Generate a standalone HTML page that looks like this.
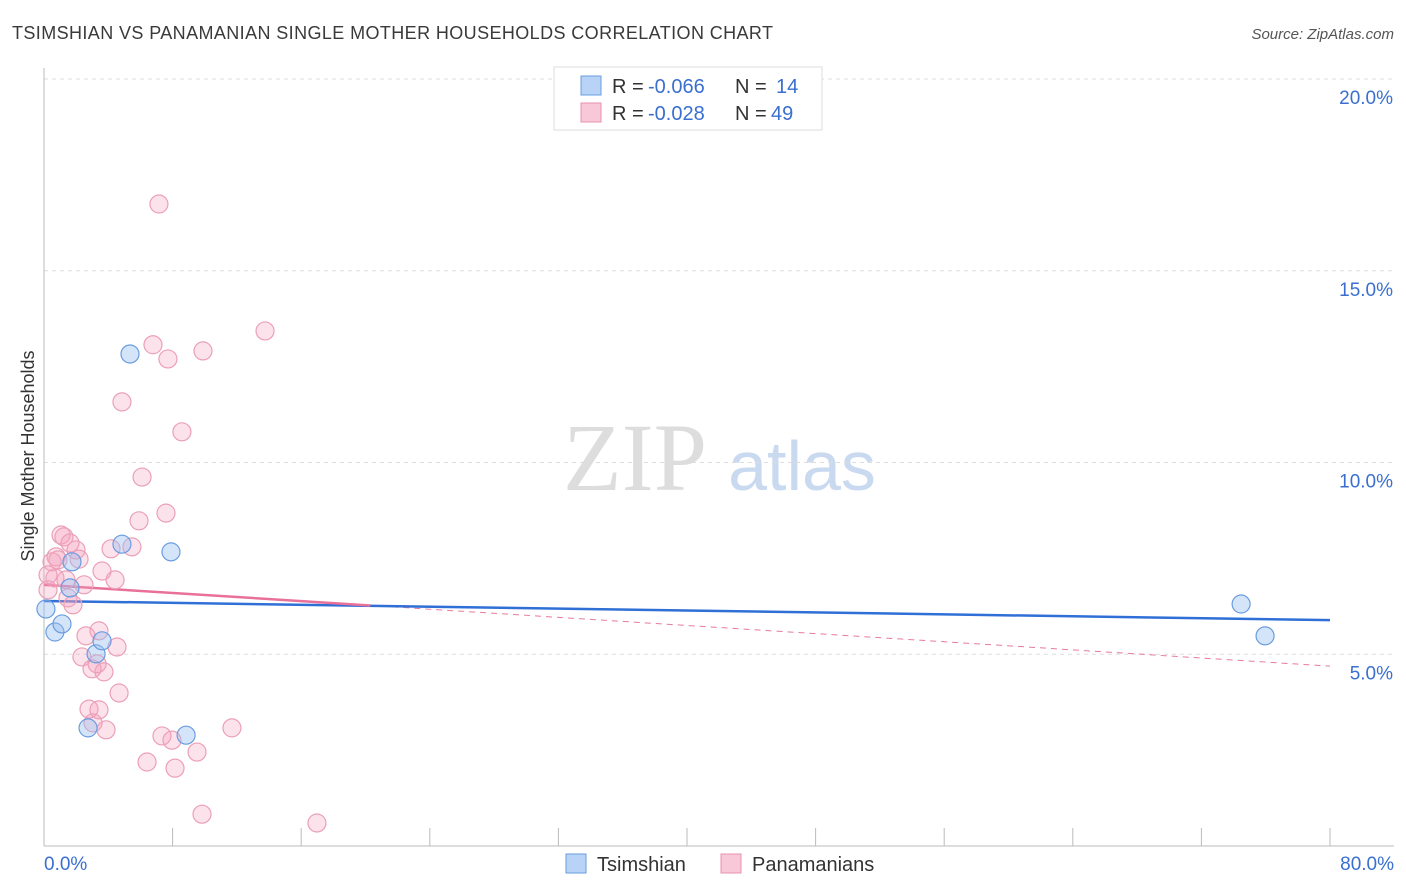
<!DOCTYPE html>
<html><head><meta charset="utf-8"><style>
body{margin:0;background:#fff;font-family:"Liberation Sans",sans-serif}
</style></head><body>
<svg id="c" width="1406" height="892" xmlns="http://www.w3.org/2000/svg" style="display:block">
<text x="12" y="39" font-size="18" fill="#3a3a3a" textLength="761" lengthAdjust="spacing">TSIMSHIAN VS PANAMANIAN SINGLE MOTHER HOUSEHOLDS CORRELATION CHART</text>
<text x="1394" y="39" font-size="15" fill="#555" font-style="italic" text-anchor="end">Source: ZipAtlas.com</text>
<text transform="translate(34,456) rotate(-90)" font-size="18" fill="#333" text-anchor="middle">Single Mother Households</text>
<g>
<text x="635" y="490" font-size="96" fill="#ddd" font-family="Liberation Serif,serif" text-anchor="middle">ZIP</text>
<text x="802" y="490" font-size="70" fill="#c9daf0" text-anchor="middle">atlas</text>
</g>
<g id="grid"></g><g id="axes"></g><g id="lines"></g><g id="pts"></g>
<g>
<rect x="554" y="67" width="268" height="63" fill="#fff" stroke="#ddd"/>
<rect x="581" y="76" width="20" height="19" fill="#b8d3f5" stroke="#6a9de0"/>
<rect x="581" y="103" width="20" height="19" fill="#f9c8d8" stroke="#e890ad"/>
<text x="612" y="93" font-size="20" fill="#333">R =</text>
<text x="648" y="93" font-size="20" fill="#3a6fd0">-0.066</text>
<text x="735" y="93" font-size="20" fill="#333">N =</text>
<text x="776" y="93" font-size="20" fill="#3a6fd0">14</text>
<text x="612" y="120" font-size="20" fill="#333">R =</text>
<text x="648" y="120" font-size="20" fill="#3a6fd0">-0.028</text>
<text x="735" y="120" font-size="20" fill="#333">N =</text>
<text x="771" y="120" font-size="20" fill="#3a6fd0">49</text>
</g>
<g>
<rect x="566" y="854" width="20" height="19" fill="#b8d3f5" stroke="#6a9de0"/>
<text x="597" y="871" font-size="20" fill="#333">Tsimshian</text>
<rect x="721" y="854" width="20" height="19" fill="#f9c8d8" stroke="#e890ad"/>
<text x="752" y="871" font-size="20" fill="#333">Panamanians</text>
</g>
</svg>
<script>
const xTicks=[0,8,16,24,32,40,48,56,64,72,80];
const yTicks=[5,10,15,20];
const blueX=[0.12,0.68,1.12,1.62,1.74,3.24,3.61,2.74,4.85,5.35,7.9,8.84,74.47,75.96];
const blueY=[6.18,5.58,5.79,6.73,7.41,5.01,5.35,3.08,7.87,12.83,7.67,2.89,6.31,5.48];
const pinkX=[7.15,13.75,6.78,7.71,9.89,4.85,8.58,6.10,7.59,5.91,1.06,1.24,1.62,1.99,4.17,5.47,0.75,0.50,0.87,2.18,0.25,0.68,1.37,3.61,4.42,2.49,1.49,1.80,3.42,2.61,4.54,2.36,3.30,2.99,3.73,4.67,2.80,3.42,3.05,3.86,7.34,7.96,9.52,11.69,6.41,8.15,9.83,16.98,0.25];
const pinkY=[16.74,13.43,13.07,12.70,12.91,11.58,10.80,9.62,8.68,8.48,8.11,8.06,7.90,7.72,7.75,7.80,7.54,7.41,7.46,7.48,7.07,6.99,6.94,7.17,6.94,6.81,6.47,6.29,5.61,5.48,5.19,4.93,4.75,4.62,4.54,3.99,3.57,3.55,3.21,3.03,2.87,2.76,2.45,3.08,2.19,2.03,0.83,0.60,6.68];
const blueTrend=[6.39,5.89];
const pinkTrend=[6.81,4.69];
const pinkSolidEnd=20.3;
const sx=v=>44+v/80*1286, sy=v=>846-v/20*767;
const NS='http://www.w3.org/2000/svg';
function mk(p,t,a){const e=document.createElementNS(NS,t);for(const k in a)e.setAttribute(k,a[k]);document.getElementById(p).appendChild(e);return e;}
yTicks.forEach(t=>{
 const l=mk('grid','line',{x1:44,x2:1394,y1:sy(t),y2:sy(t),stroke:'#ddd','stroke-dasharray':'4,4'});
 
 
 const tx=mk('grid','text',{x:1393,y:sy(t)+25,'font-size':19,fill:'#3a6fd0','text-anchor':'end'});
 tx.textContent=t.toFixed(1)+'%';
 
 
});
let a=mk('axes','line',{x1:44,x2:44,y1:68,y2:846,stroke:'#bbb'});


a=mk('axes','line',{x1:44,x2:1394,y1:846,y2:846,stroke:'#bbb'});


xTicks.forEach(t=>{
 const l=mk('axes','line',{x1:sx(t),x2:sx(t),y1:828,y2:846,stroke:'#bbb'});
 
 
});
[[0,'start','0.0%'],[80,'end','80.0%']].forEach(d=>{
 const tx=mk('axes','text',{x:d[0]==0?44:1394,y:870,'font-size':19,fill:'#3a6fd0','text-anchor':d[1]});
 tx.textContent=d[2];
 
 
});
pinkX.forEach((x,i)=>{
 const c=mk('pts','circle',{cx:sx(x),cy:sy(pinkY[i]),r:9,fill:'rgba(244,160,190,0.3)',stroke:'#eba0b8','stroke-width':1.2});
 
 
});
blueX.forEach((x,i)=>{
 const c=mk('pts','circle',{cx:sx(x),cy:sy(blueY[i]),r:9,fill:'rgba(150,190,240,0.4)',stroke:'#6a9de0','stroke-width':1.2});
 
 
});
const pAt=x=>pinkTrend[0]+(pinkTrend[1]-pinkTrend[0])*x/80;
let l=mk('lines','line',{x1:sx(pinkSolidEnd),y1:sy(pAt(pinkSolidEnd)),x2:sx(80),y2:sy(pinkTrend[1]),stroke:'#e8799e','stroke-width':1,'stroke-dasharray':'6,5'});


l=mk('lines','line',{x1:sx(0),y1:sy(blueTrend[0]),x2:sx(80),y2:sy(blueTrend[1]),stroke:'#2f6fd6','stroke-width':2.5});


l=mk('lines','line',{x1:sx(0),y1:sy(pinkTrend[0]),x2:sx(pinkSolidEnd),y2:sy(pAt(pinkSolidEnd)),stroke:'#e8709a','stroke-width':2.5});


</script>
</body></html>
